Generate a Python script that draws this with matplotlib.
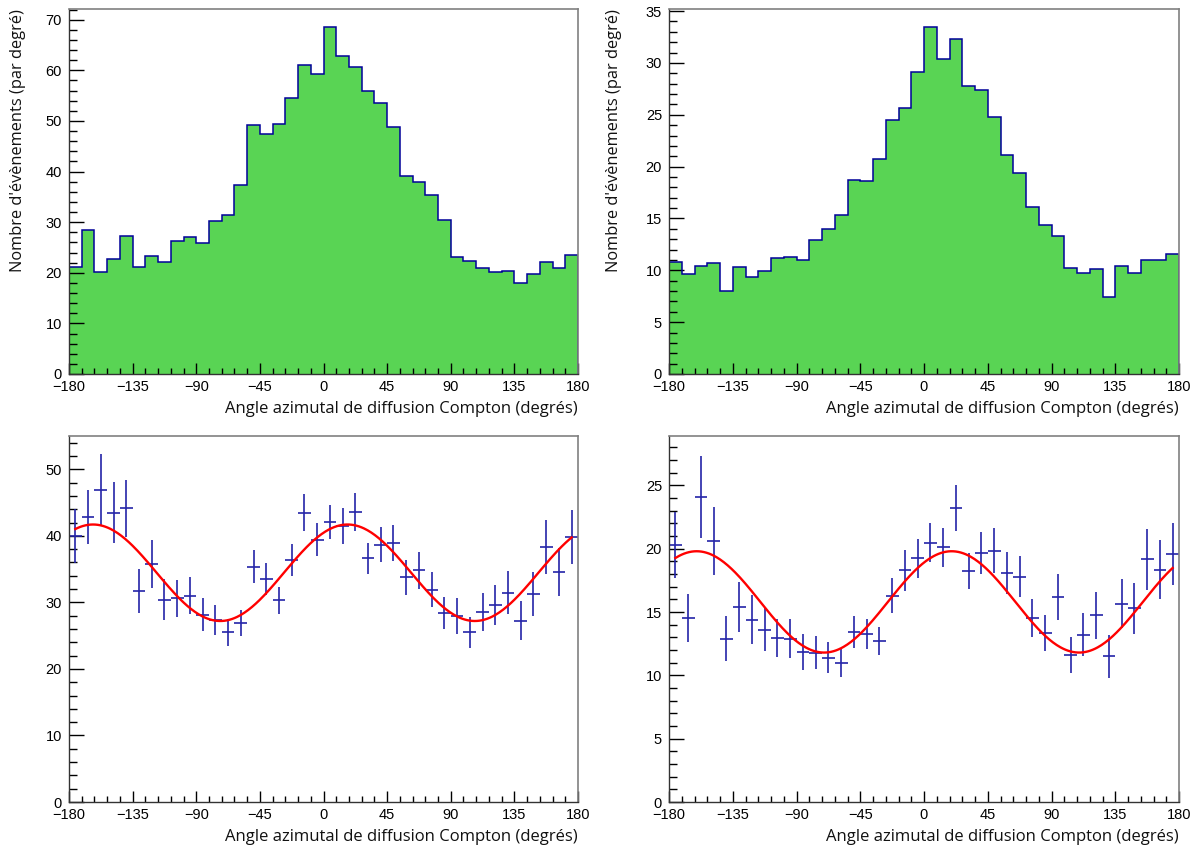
import numpy as np
import matplotlib
matplotlib.use("Agg")
import matplotlib.pyplot as plt
from matplotlib.ticker import MultipleLocator

# ---------------- data ----------------
bin_edges = np.arange(-180, 181, 9)          # 40 bins of 9 degrees
bin_centers = (bin_edges[:-1] + bin_edges[1:]) / 2

hist_left = [21.2, 28.5, 20.1, 22.7, 27.2, 21.1, 23.3, 22.1, 26.3, 27.0,
             25.9, 30.3, 31.4, 37.3, 49.1, 47.4, 49.3, 54.5, 61.0, 59.2,
             68.6, 62.8, 60.6, 55.9, 53.6, 48.8, 39.1, 38.0, 35.3, 30.5,
             23.1, 22.4, 20.9, 20.1, 20.4, 18.0, 19.8, 22.2, 20.9, 23.6]

hist_right = [10.8, 9.6, 10.4, 10.7, 8.0, 10.3, 9.4, 9.9, 11.2, 11.3,
              11.0, 12.9, 14.0, 15.3, 18.7, 18.6, 20.7, 24.5, 25.7, 29.1,
              33.5, 30.4, 32.3, 27.8, 27.4, 24.8, 21.1, 19.4, 16.1, 14.4,
              13.3, 10.2, 9.7, 10.1, 7.4, 10.4, 9.7, 11.0, 11.0, 11.6]

pts_left = [40.0, 42.85, 46.85, 43.5, 44.15, 31.7, 35.8, 30.4, 30.6, 31.0,
            28.15, 27.35, 25.5, 26.9, 35.35, 33.55, 30.3, 36.3, 43.5, 39.4,
            42.05, 41.5, 43.6, 36.6, 38.65, 38.9, 33.75, 34.8, 31.9, 28.4,
            28.0, 25.5, 28.5, 29.6, 31.45, 27.25, 31.25, 38.35, 34.55, 39.8]
err_left = [4.1, 4.1, 5.4, 4.65, 4.3, 3.3, 3.6, 3.1, 2.8, 2.8,
            2.5, 2.3, 2.0, 2.0, 2.45, 2.4, 2.05, 2.4, 2.85, 2.5,
            2.55, 2.7, 2.9, 2.35, 2.65, 2.75, 2.6, 2.75, 2.6, 2.35,
            2.7, 2.3, 2.85, 3.05, 3.25, 2.9, 3.3, 4.05, 3.55, 4.1]

pts_right = [20.3, 14.5, 24.1, 20.6, 12.9, 15.4, 14.4, 13.6, 12.95, 12.9,
             11.85, 11.8, 11.4, 10.95, 13.4, 13.25, 12.7, 16.3, 18.3, 19.25,
             20.47, 20.1, 23.2, 18.25, 19.65, 19.85, 18.1, 17.8, 14.5, 13.35,
             16.2, 11.6, 13.2, 14.75, 11.5, 15.65, 15.3, 19.15, 18.35, 19.6]
err_right = [2.6, 1.9, 3.25, 2.7, 1.8, 2.0, 1.95, 1.7, 1.5, 1.55,
             1.4, 1.3, 1.25, 1.1, 1.25, 1.2, 1.1, 1.4, 1.6, 1.55,
             1.55, 1.55, 1.8, 1.45, 1.65, 1.75, 1.65, 1.65, 1.5, 1.45,
             1.8, 1.4, 1.7, 1.85, 1.7, 1.95, 2.0, 2.4, 2.3, 2.45]

# fit: offset + amplitude * cos(2 (phi - phase))
fit_left = [34.45, 7.25, 17.0]
fit_right = [15.8, 4.0, 19.5]

xlabel_txt = "Angle azimutal de diffusion Compton (degrés)"
ylabel_txt = "Nombre d'évènements (par degré)"
xticks = [-180, -135, -90, -45, 0, 45, 90, 135, 180]

# ---------------- style ----------------
W, H = 1199, 850
fig = plt.figure(figsize=(W / 100, H / 100), dpi=100)
fig.patch.set_facecolor("white")

GREEN = "#59d454"
BLUE = "#000099"
EBLUE = "#2424a8"
TICKFONT = "Liberation Sans"
LABELFONT = "Open Sans"


def px_axes(l, r, t, b):
    return fig.add_axes([l / W, 1 - b / H, (r - l) / W, (b - t) / H])


def style(ax, ymax, ymaj, ymin_step):
    ax.set_xlim(-180, 180)
    ax.set_ylim(0, ymax)
    ax.set_xticks(xticks)
    ax.set_xticklabels([("\u2212" + str(-v)) if v < 0 else str(v) for v in xticks])
    ax.xaxis.set_minor_locator(MultipleLocator(9))
    ax.yaxis.set_major_locator(MultipleLocator(ymaj))
    ax.yaxis.set_minor_locator(MultipleLocator(ymin_step))
    ax.tick_params(axis="x", which="major", direction="in", length=8, width=1,
                   top=False, pad=4, labelsize=10.5, colors="black")
    ax.tick_params(axis="x", which="minor", direction="in", length=4, width=1, top=False)
    ax.tick_params(axis="y", which="major", direction="in", length=11, width=1,
                   right=False, pad=5, labelsize=10.5, colors="black")
    ax.tick_params(axis="y", which="minor", direction="in", length=6, width=1, right=False)
    for lab in ax.get_xticklabels() + ax.get_yticklabels():
        lab.set_fontfamily(TICKFONT)
    for s in ("top", "right"):
        ax.spines[s].set_color("#808080")
        ax.spines[s].set_linewidth(1.2)
    for s in ("left", "bottom"):
        ax.spines[s].set_color("#333333")
        ax.spines[s].set_linewidth(1.0)
    ax.text(1.0, -0.096, xlabel_txt, transform=ax.transAxes, ha="right", va="center",
            fontsize=12, fontfamily=LABELFONT, color="#111111")


def hist_panel(ax, vals, ymax, ymaj, ymin_step, ylab_x):
    ax.stairs(vals, bin_edges, fill=True, color=GREEN, zorder=1)
    ax.stairs(vals, bin_edges, baseline=0, color=BLUE, linewidth=1.1, zorder=2)
    style(ax, ymax, ymaj, ymin_step)
    ax.text(ylab_x, 1.0, ylabel_txt, transform=ax.transAxes, rotation=90,
            ha="center", va="top", fontsize=11.8, fontfamily=LABELFONT, color="#111111")


def fit_panel(ax, vals, errs, params, ymax, ymaj, ymin_step):
    ax.errorbar(bin_centers, vals, yerr=errs, xerr=4.5, fmt="none",
                ecolor=EBLUE, elinewidth=1.2, capsize=0, zorder=2)
    phi = np.linspace(bin_centers[0], bin_centers[-1], 400)
    off, amp, ph = params
    ax.plot(phi, off + amp * np.cos(np.radians(2 * (phi - ph))),
            color="#ff0000", linewidth=1.7, zorder=3)
    style(ax, ymax, ymaj, ymin_step)


ax1 = px_axes(69, 578, 9, 374)
hist_panel(ax1, hist_left, 72.1, 10, 2, -0.10)

ax2 = px_axes(669, 1179, 9, 374)
hist_panel(ax2, hist_right, 35.2, 5, 1, -0.108)

ax3 = px_axes(69, 578, 436, 802)
fit_panel(ax3, pts_left, err_left, fit_left, 55.0, 10, 2)

ax4 = px_axes(669, 1179, 436, 802)
fit_panel(ax4, pts_right, err_right, fit_right, 28.9, 5, 1)

fig.savefig("out.png", dpi=100, facecolor="white")
